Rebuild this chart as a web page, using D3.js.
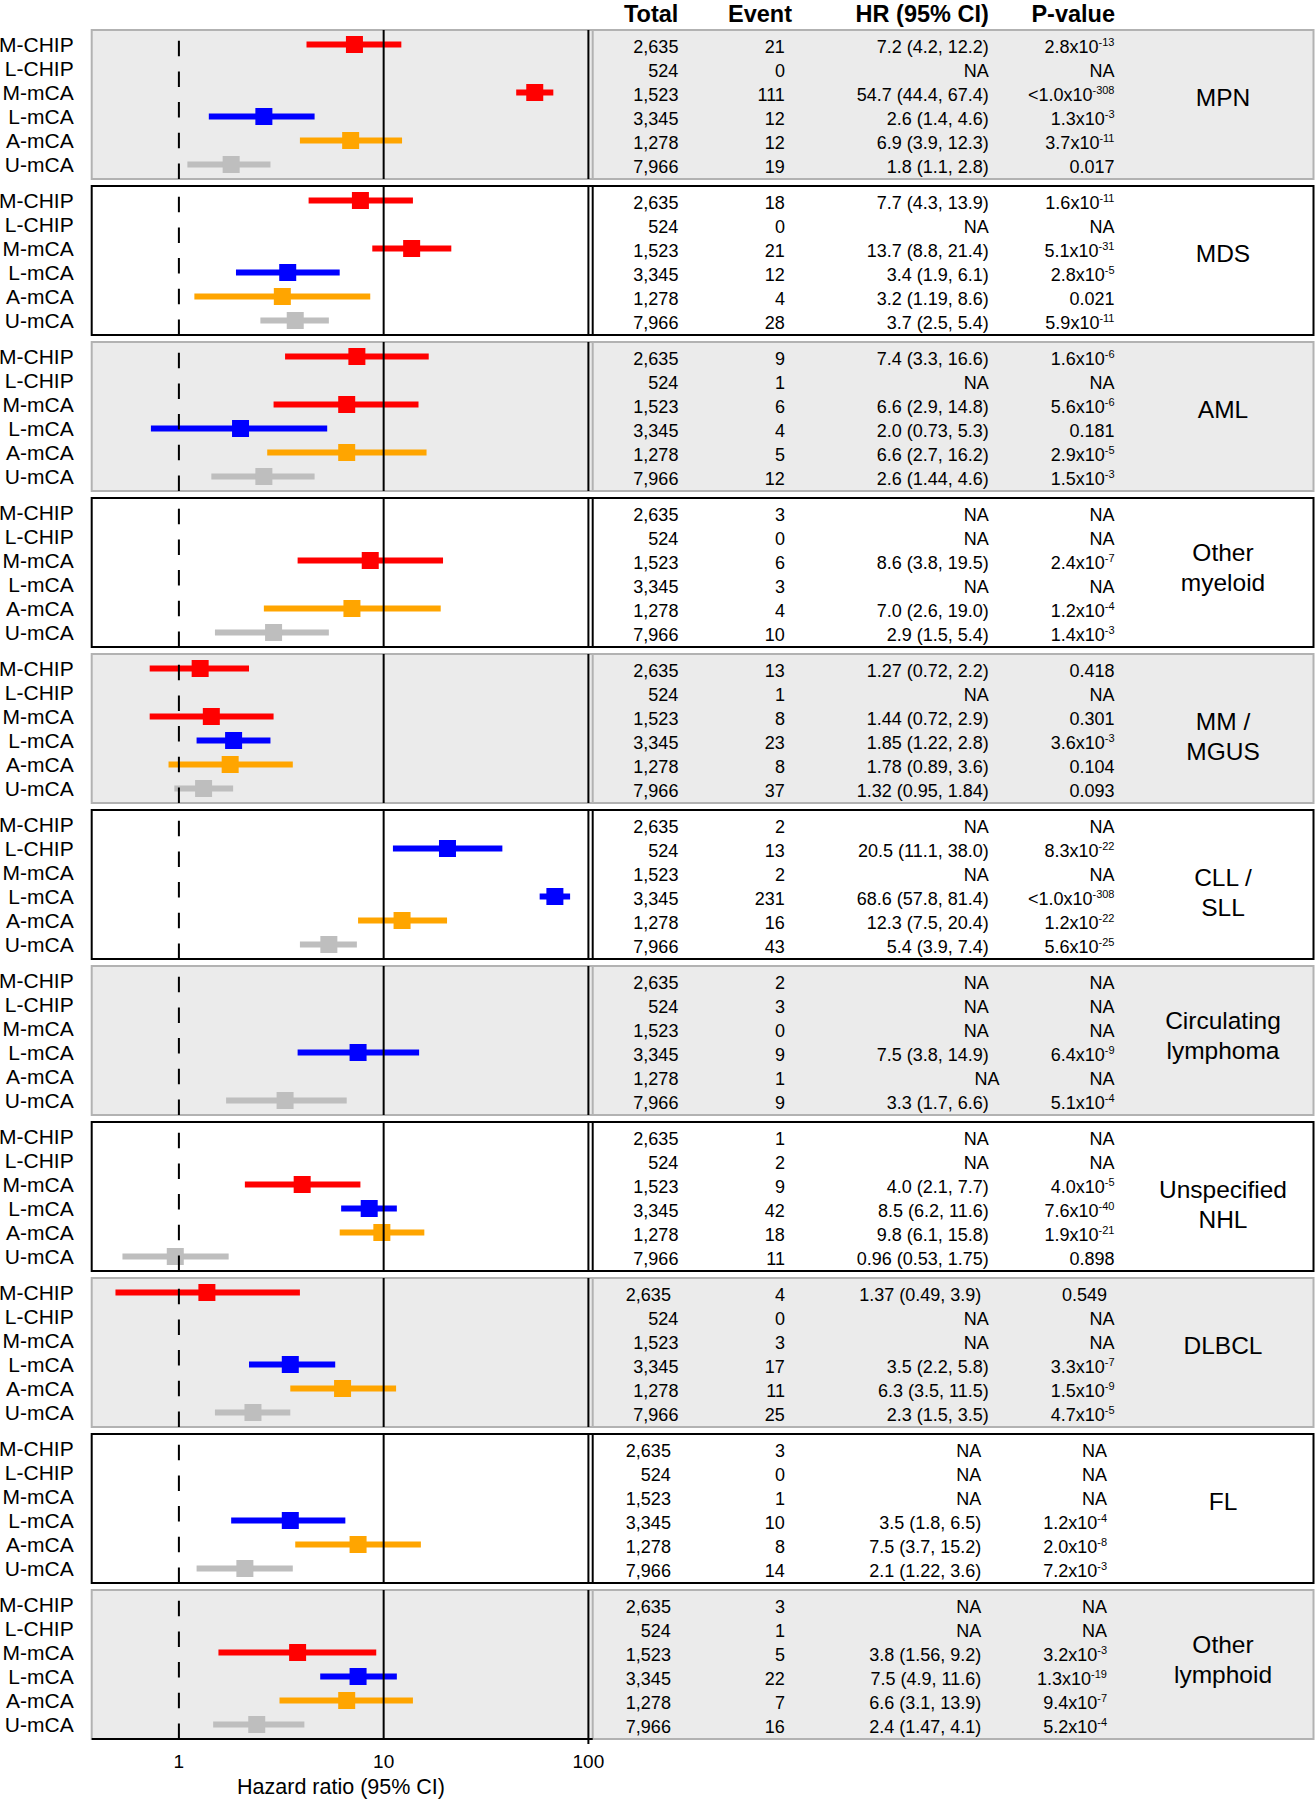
<!DOCTYPE html>
<html><head><meta charset="utf-8">
<script src="https://cdn.jsdelivr.net/npm/d3@7"></script>
<style>
body{margin:0;background:#fff}
svg{display:block}
text{font-family:"Liberation Sans",Arial,Helvetica,sans-serif;fill:#000}
</style>
</head><body>
<svg id="chart" width="1315" height="1800"></svg>
<script>
// ---------------- data ----------------
const rowLabels = ["M-CHIP","L-CHIP","M-mCA","L-mCA","A-mCA","U-mCA"];
const rowColors = ["#ff0000","#0000ff","#ff0000","#0000ff","#ffa500","#bebebe"];
const totals = ["2,635","524","1,523","3,345","1,278","7,966"];
const headers = ["Total","Event","HR (95% CI)","P-value"];
const diseases = [["MPN"],["MDS"],["AML"],["Other","myeloid"],["MM /","MGUS"],["CLL /","SLL"],
  ["Circulating","lymphoma"],["Unspecified","NHL"],["DLBCL"],["FL"],["Other","lymphoid"]];
const events = [[21,0,111,12,12,19],[18,0,21,12,4,28],[9,1,6,4,5,12],[3,0,6,3,4,10],
  [13,1,8,23,8,37],[2,13,2,231,16,43],[2,3,0,9,1,9],[1,2,9,42,18,11],
  [4,0,3,17,11,25],[3,0,1,10,8,14],[3,1,5,22,7,16]];
const hrEst = [["7.2",null,"54.7","2.6","6.9","1.8"],
  ["7.7",null,"13.7","3.4","3.2","3.7"],
  ["7.4",null,"6.6","2.0","6.6","2.6"],
  [null,null,"8.6",null,"7.0","2.9"],
  ["1.27",null,"1.44","1.85","1.78","1.32"],
  [null,"20.5",null,"68.6","12.3","5.4"],
  [null,null,null,"7.5",null,"3.3"],
  [null,null,"4.0","8.5","9.8","0.96"],
  ["1.37",null,null,"3.5","6.3","2.3"],
  [null,null,null,"3.5","7.5","2.1"],
  [null,null,"3.8","7.5","6.6","2.4"]];
const hrLo = [["4.2",null,"44.4","1.4","3.9","1.1"],
  ["4.3",null,"8.8","1.9","1.19","2.5"],
  ["3.3",null,"2.9","0.73","2.7","1.44"],
  [null,null,"3.8",null,"2.6","1.5"],
  ["0.72",null,"0.72","1.22","0.89","0.95"],
  [null,"11.1",null,"57.8","7.5","3.9"],
  [null,null,null,"3.8",null,"1.7"],
  [null,null,"2.1","6.2","6.1","0.53"],
  ["0.49",null,null,"2.2","3.5","1.5"],
  [null,null,null,"1.8","3.7","1.22"],
  [null,null,"1.56","4.9","3.1","1.47"]];
const hrHi = [["12.2",null,"67.4","4.6","12.3","2.8"],
  ["13.9",null,"21.4","6.1","8.6","5.4"],
  ["16.6",null,"14.8","5.3","16.2","4.6"],
  [null,null,"19.5",null,"19.0","5.4"],
  ["2.2",null,"2.9","2.8","3.6","1.84"],
  [null,"38.0",null,"81.4","20.4","7.4"],
  [null,null,null,"14.9",null,"6.6"],
  [null,null,"7.7","11.6","15.8","1.75"],
  ["3.9",null,null,"5.8","11.5","3.5"],
  [null,null,null,"6.5","15.2","3.6"],
  [null,null,"9.2","11.6","13.9","4.1"]];
const pValues = [["2.8e-13","NA","<1.0e-308","1.3e-3","3.7e-11","0.017"],
  ["1.6e-11","NA","5.1e-31","2.8e-5","0.021","5.9e-11"],
  ["1.6e-6","NA","5.6e-6","0.181","2.9e-5","1.5e-3"],
  ["NA","NA","2.4e-7","NA","1.2e-4","1.4e-3"],
  ["0.418","NA","0.301","3.6e-3","0.104","0.093"],
  ["NA","8.3e-22","NA","<1.0e-308","1.2e-22","5.6e-25"],
  ["NA","NA","NA","6.4e-9","NA","5.1e-4"],
  ["NA","NA","4.0e-5","7.6e-40","1.9e-21","0.898"],
  ["0.549","NA","NA","3.3e-7","1.5e-9","4.7e-5"],
  ["NA","NA","NA","1.2e-4","2.0e-8","7.2e-3"],
  ["NA","NA","3.2e-3","1.3e-19","9.4e-7","5.2e-4"]];
const axisTicks = [1, 10, 100];
const axisTitle = "Hazard ratio (95% CI)";

// ---------------- layout ----------------
const svg = d3.select("#chart");
const panelTop0 = 30, panelStep = 156, panelH = 149;
const rowOff0 = 14.5, rowStep = 24;
const plotLeft = 91.7, lineB = 592.7, panelRight = 1313.5;
const x = d3.scaleLog().domain([1, 100]).range([178.9, 588.4]);
const colTotal = 678.4, colEvent = 784.9, colHR = 988.8, colP = 1114.5, colCat = 1223;
const labelShift = [0,0,0,-13.5,0,0,-13.5,0,0,0,-13.5];

// headers
const hdrX = [678.4, 792, 988.8, 1115];
headers.forEach((h,i)=>{
  svg.append("text").attr("x",hdrX[i]).attr("y",21.5).attr("text-anchor","end")
    .attr("font-size",23.5).attr("font-weight","bold").text(h);
});

function pText(sel, s){
  const m = s.match(/^(<?[\d.]+)e(-\d+)$/);
  if (m){
    sel.append("tspan").text(m[1] + "x10");
    sel.append("tspan").attr("dy",-7).attr("font-size",11).text(m[2]);
  } else sel.text(s);
}

diseases.forEach((dz, p)=>{
  const top = panelTop0 + p*panelStep;
  const gray = p % 2 === 0;
  const border = gray ? "#b2b2b2" : "#000";
  const g = svg.append("g");
  g.append("rect").attr("x",plotLeft).attr("y",top).attr("width",panelRight-plotLeft).attr("height",panelH)
    .attr("fill", gray ? "#ebebeb" : "#fff").attr("stroke",border).attr("stroke-width",2);

  const rowY = i => top + rowOff0 + i*rowStep;

  // forest marks
  rowLabels.forEach((lab,i)=>{
    const e = hrEst[p][i];
    if (e === null) return;
    const y = rowY(i);
    g.append("line").attr("x1",x(+hrLo[p][i])).attr("x2",x(+hrHi[p][i]))
      .attr("y1",y).attr("y2",y).attr("stroke",rowColors[i]).attr("stroke-width",6);
    g.append("rect").attr("x",x(+e)-8.5).attr("y",y-8.5).attr("width",17).attr("height",17)
      .attr("fill",rowColors[i]);
  });

  // reference lines
  g.append("line").attr("x1",x(1)).attr("x2",x(1)).attr("y1",top+panelH).attr("y2",top)
    .attr("stroke","#000").attr("stroke-width",2).attr("stroke-dasharray","15.5,15.2");
  g.append("line").attr("x1",x(10)).attr("x2",x(10)).attr("y1",top).attr("y2",top+panelH)
    .attr("stroke","#000").attr("stroke-width",2);
  g.append("line").attr("x1",x(100)).attr("x2",x(100)).attr("y1",top).attr("y2",top+panelH)
    .attr("stroke","#000").attr("stroke-width",2);
  g.append("line").attr("x1",lineB).attr("x2",lineB).attr("y1",top).attr("y2",top+panelH)
    .attr("stroke",border).attr("stroke-width",2);

  // row labels and table
  rowLabels.forEach((lab,i)=>{
    const y = rowY(i);
    // the lower table block of the source figure sits slightly further left
    const dx = ((p === 8 && i === 0) || p >= 9) ? -7.5 : 0;
    g.append("text").attr("x",73.7).attr("y",y+7.5).attr("text-anchor","end").attr("font-size",21).text(lab);
    g.append("text").attr("x",colTotal+dx).attr("y",y+8.7).attr("text-anchor","end").attr("font-size",18).text(totals[i]);
    g.append("text").attr("x",colEvent).attr("y",y+8.7).attr("text-anchor","end").attr("font-size",18).text(events[p][i]);
    const e = hrEst[p][i];
    const hrStr = e === null ? "NA" : `${e} (${hrLo[p][i]}, ${hrHi[p][i]})`;
    const nudge = (p === 6 && i === 4) ? 10.7 : 0;
    g.append("text").attr("x",colHR + nudge + dx).attr("y",y+8.7).attr("text-anchor","end").attr("font-size",18).text(hrStr);
    const pt = g.append("text").attr("x",colP+dx).attr("y",y+8.7).attr("text-anchor","end").attr("font-size",18);
    pText(pt, pValues[p][i]);
  });

  // disease label
  const base = top + 76 + labelShift[p];
  dz.forEach((line,k)=>{
    g.append("text").attr("x",colCat).attr("y",base + k*30).attr("text-anchor","middle")
      .attr("font-size",24.5).text(line);
  });
});

// x axis
const axisY = panelTop0 + 10*panelStep + panelH;
svg.append("line").attr("x1",plotLeft).attr("x2",lineB).attr("y1",axisY).attr("y2",axisY)
  .attr("stroke","#000").attr("stroke-width",2);
svg.append("line").attr("x1",x(100)).attr("x2",x(100)).attr("y1",axisY).attr("y2",axisY+5)
  .attr("stroke","#000").attr("stroke-width",2);
axisTicks.forEach(t=>{
  svg.append("text").attr("x",x(t)).attr("y",1768.3).attr("text-anchor","middle").attr("font-size",19).text(t);
});
svg.append("text").attr("x",341).attr("y",1793.5).attr("text-anchor","middle").attr("font-size",21.5).text(axisTitle);
</script>
</body></html>
